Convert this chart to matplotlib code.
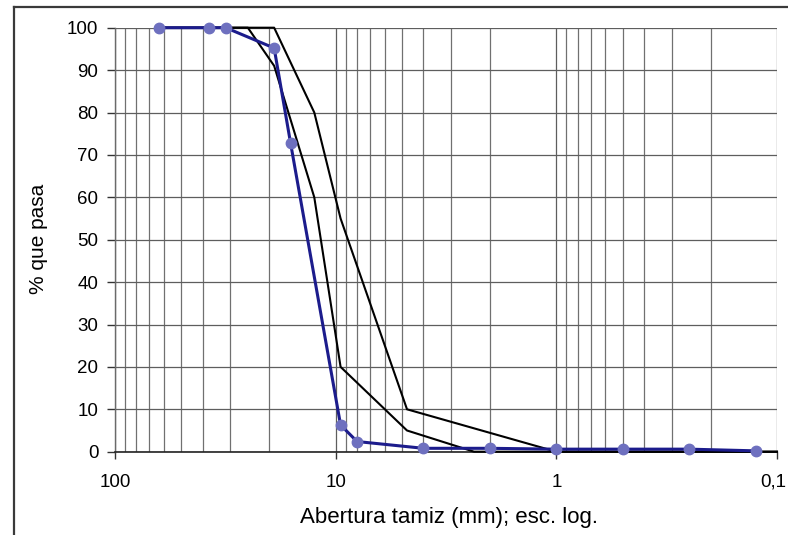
import matplotlib
matplotlib.use("Agg")
import matplotlib.pyplot as plt
from matplotlib.ticker import FixedLocator, NullFormatter
from matplotlib.lines import Line2D
from matplotlib.transforms import ScaledTranslation

plt.rcParams['font.family'] = ['Liberation Sans', 'DejaVu Sans']

# Blue sample curve (sieve opening mm, % passing)
sample_x = [63, 37.5, 31.5, 19, 16, 9.5, 8, 4, 2, 1, 0.5, 0.25, 0.125]
sample_y = [100, 100, 100, 95.2, 72.7, 6.3, 2.4, 0.8, 0.8, 0.6, 0.6, 0.6, 0.2]

# Upper envelope (black, right)
upper_x = [63, 19, 12.5, 9.5, 4.75, 1, 0.1]
upper_y = [100, 100, 80, 55, 10, 0, 0]

# Lower envelope (black, left)
lower_x = [63, 25, 19, 12.5, 9.5, 4.75, 2.36, 0.1]
lower_y = [100, 100, 91, 60, 20, 5, 0, 0]

xticks = [100, 10, 1, 0.1]
xtick_labels = ["100", "10", "1", "0,1"]
yticks = list(range(0, 101, 10))

W, H = 788, 535
fig = plt.figure(figsize=(W / 100, H / 100), dpi=100)
ax = fig.add_axes([115 / W, 83.3 / H, (777 - 115) / W, (451.7 - 27.7) / H])

ax.set_xscale('log')
ax.set_xlim(100, 0.1)
ax.set_ylim(0, 100)

# grid
minor = [m * 10.0 ** e for e in range(-1, 2) for m in range(2, 10)]
ax.xaxis.set_major_locator(FixedLocator(xticks))
ax.xaxis.set_minor_locator(FixedLocator(minor))
ax.xaxis.set_minor_formatter(NullFormatter())
ax.set_xticklabels(xtick_labels)
ax.set_yticks(yticks)
ax.grid(True, which='major', axis='both', color='#5e5e5e', lw=0.9)
ax.grid(True, which='minor', axis='x', color='#707070', lw=0.9)
ax.tick_params(axis='x', which='minor', length=0)
ax.tick_params(axis='x', which='major', direction='out', length=5, width=1,
               pad=11, labelsize=13.5, color='#333333')
ax.tick_params(axis='y', which='major', direction='out', length=6, width=1,
               pad=6, labelsize=13.5, color='#333333')

# keep the last tick label inside the figure
last = ax.get_xticklabels()[-1]
last.set_horizontalalignment('right')
last.set_transform(last.get_transform() + ScaledTranslation(9 / 100, 0, fig.dpi_scale_trans))

for s in ['top', 'right']:
    ax.spines[s].set_visible(False)
ax.spines['left'].set_color('#6a6a6a')
ax.spines['left'].set_linewidth(1.0)
ax.spines['bottom'].set_color('#222222')
ax.spines['bottom'].set_linewidth(1.2)

ax.plot(upper_x, upper_y, color='black', lw=1.5, zorder=3, clip_on=False)
ax.plot(lower_x, lower_y, color='black', lw=1.5, zorder=3, clip_on=False)
ax.plot(sample_x, sample_y, color='#1c1c8c', lw=2.2, marker='o', markersize=7.5,
        markerfacecolor='#6e70bf', markeredgecolor='#6e70bf', zorder=4, clip_on=False)

fig.text(38 / W, 1 - 239 / H, "% que pasa", rotation=90, ha='center', va='center',
         fontsize=15)
fig.text(449 / W, 1 - 517 / H, "Abertura tamiz (mm); esc. log.", ha='center',
         va='center', fontsize=16)

# outer frame (partially cropped)
fig.add_artist(Line2D([14 / W, 14 / W], [0, 1 - 7 / H], transform=fig.transFigure,
                      color='#3a3a3a', lw=1.6))
fig.add_artist(Line2D([14 / W, 1], [1 - 7 / H, 1 - 7 / H], transform=fig.transFigure,
                      color='#3a3a3a', lw=1.6))

fig.savefig("out.png", dpi=100)
